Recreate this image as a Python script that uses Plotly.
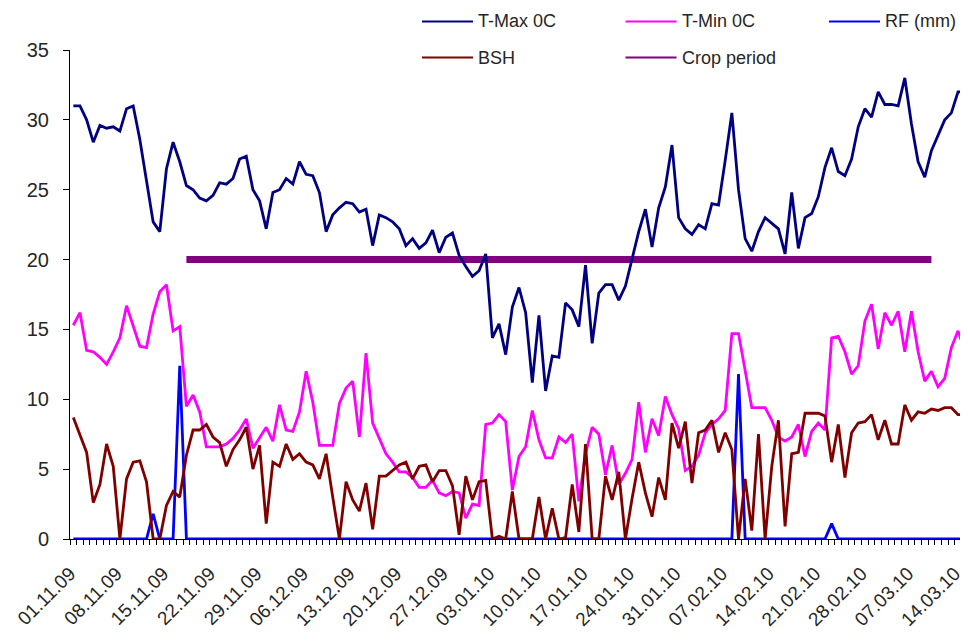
import pandas as pd
import plotly.graph_objects as go

# daily categories 01.11.09 .. 15.03.10
dates = pd.date_range("2009-11-01", "2010-03-15", freq="D").strftime("%d.%m.%y").tolist()
days = list(range(len(dates)))

tick_labels = ["01.11.09", "08.11.09", "15.11.09", "22.11.09", "29.11.09", "06.12.09",
               "13.12.09", "20.12.09", "27.12.09", "03.01.10", "10.01.10", "17.01.10",
               "24.01.10", "31.01.10", "07.02.10", "14.02.10", "21.02.10", "28.02.10",
               "07.03.10", "14.03.10"]

tmax = [31.0, 31.0, 30.0, 28.4, 29.6, 29.4, 29.5, 29.2, 30.8, 31.0,
        28.6, 25.7, 22.7, 22.0, 26.5, 28.4, 27.0, 25.3, 25.0, 24.4,
        24.2, 24.6, 25.5, 25.4, 25.8, 27.2, 27.4, 25.0, 24.2, 22.2,
        24.8, 25.0, 25.8, 25.4, 27.0, 26.1, 26.0, 24.8, 22.0, 23.2,
        23.7, 24.1, 24.0, 23.4, 23.6, 21.0, 23.2, 23.0, 22.7, 22.2,
        21.0, 21.5, 20.8, 21.2, 22.1, 20.5, 21.6, 21.9, 20.3, 19.5,
        18.8, 19.2, 20.4, 14.4, 15.4, 13.2, 16.6, 18.0, 16.2, 11.2,
        16.0, 10.6, 13.1, 13.0, 16.9, 16.4, 15.2, 19.6, 14.0, 17.6,
        18.2, 18.2, 17.1, 18.1, 20.0, 22.0, 23.6, 20.9, 23.7, 25.2,
        28.2, 23.0, 22.2, 21.8, 22.5, 22.2, 24.0, 23.9, 27.1, 30.5,
        25.0, 21.5, 20.6, 22.0, 23.0, 22.6, 22.2, 20.4, 24.8, 20.8,
        23.0, 23.3, 24.5, 26.6, 28.0, 26.3, 26.0, 27.2, 29.5, 30.8,
        30.2, 32.0, 31.1, 31.1, 31.0, 33.0, 29.7, 27.0, 25.9, 27.8,
        28.9, 30.0, 30.5, 32.0, 32.0]

tmin = [15.3, 16.2, 13.5, 13.4, 13.0, 12.5, 13.4, 14.4, 16.7, 15.3,
        13.8, 13.7, 16.1, 17.7, 18.2, 14.9, 15.2, 9.5, 10.3, 9.1,
        6.6, 6.6, 6.6, 6.8, 7.2, 7.8, 8.6, 6.5, 7.3, 8.0,
        7.0, 9.6, 7.8, 7.7, 9.1, 12.0, 9.8, 6.7, 6.7, 6.7,
        9.7, 10.8, 11.3, 7.3, 13.3, 8.3, 7.2, 6.1, 5.5, 4.8,
        4.8, 4.4, 3.7, 3.7, 4.2, 3.3, 3.1, 3.4, 3.3, 1.5,
        2.5, 2.4, 8.2, 8.3, 8.9, 8.4, 3.5, 5.9, 6.6, 9.2,
        7.1, 5.8, 5.8, 7.3, 6.9, 7.5, 2.7, 6.1, 8.0, 7.5,
        4.6, 6.7, 3.9, 4.7, 5.7, 9.8, 6.2, 8.6, 7.4, 10.2,
        8.9, 7.9, 4.9, 5.2, 6.0, 7.6, 8.2, 8.6, 9.2, 14.7,
        14.7, 12.1, 9.4, 9.4, 9.4, 8.5, 7.3, 7.0, 7.3, 8.2,
        5.9, 7.7, 8.3, 7.8, 14.4, 14.5, 13.4, 11.8, 12.4, 15.6,
        16.8, 13.6, 16.2, 15.3, 16.3, 13.4, 16.3, 13.4, 11.3, 12.0,
        10.9, 11.5, 13.7, 14.9, 13.5]

rf = [0, 0, 0, 0, 0, 0, 0, 0, 0, 0,
      0, 0, 1.8, 0, 0, 0, 12.4, 0, 0, 0,
      0, 0, 0, 0, 0, 0, 0, 0, 0, 0,
      0, 0, 0, 0, 0, 0, 0, 0, 0, 0,
      0, 0, 0, 0, 0, 0, 0, 0, 0, 0,
      0, 0, 0, 0, 0, 0, 0, 0, 0, 0,
      0, 0, 0, 0, 0, 0, 0, 0, 0, 0,
      0, 0, 0, 0, 0, 0, 0, 0, 0, 0,
      0, 0, 0, 0, 0, 0, 0, 0, 0, 0,
      0, 0, 0, 0, 0, 0, 0, 0, 0, 0,
      11.8, 0, 0, 0, 0, 0, 0, 0, 0, 0,
      0, 0, 0, 0, 1.1, 0, 0, 0, 0, 0,
      0, 0, 0, 0, 0, 0, 0, 0, 0, 0,
      0, 0, 0, 0, 0]

bsh = [8.7, 7.5, 6.2, 2.6, 3.9, 6.8, 5.2, 0.0, 4.3, 5.5,
       5.6, 4.1, 0.0, 0.0, 2.4, 3.4, 3.0, 6.0, 7.8, 7.8,
       8.2, 7.3, 6.9, 5.2, 6.4, 7.1, 8.0, 5.0, 6.7, 1.1,
       5.5, 5.2, 6.8, 5.7, 6.1, 5.5, 5.3, 4.3, 6.1, 3.0,
       0.0, 4.1, 2.8, 2.0, 4.0, 0.7, 4.5, 4.5, 4.9, 5.3,
       5.5, 4.3, 5.2, 5.3, 4.1, 4.9, 4.9, 3.8, 0.3, 4.5,
       2.8, 4.1, 4.2, 0.0, 0.2, 0.0, 3.4, 0.0, 0.0, 0.0,
       3.0, 0.0, 2.2, 0.0, 0.1, 3.9, 0.5, 6.8, 0.0, 0.0,
       4.5, 2.8, 4.8, 0.0, 2.9, 5.5, 3.3, 1.6, 4.4, 2.8,
       8.3, 6.5, 8.4, 4.0, 7.6, 7.8, 8.5, 6.2, 7.6, 6.4,
       0.0, 4.3, 0.6, 7.5, 0.0, 5.2, 8.5, 0.9, 6.1, 6.2,
       9.0, 9.0, 9.0, 8.8, 5.5, 8.2, 4.4, 7.6, 8.3, 8.4,
       8.9, 7.1, 8.5, 6.8, 6.8, 9.6, 8.5, 9.1, 9.0, 9.3,
       9.2, 9.4, 9.4, 8.9, 8.9]

crop_start, crop_end, crop_level = "18.11.09", "10.03.10", 20

FONT = "Arial, Liberation Sans, sans-serif"
TXT = "#262626"

series = [
    # name, values, colour
    ("T-Max 0C", tmax, "#000080"),
    ("T-Min 0C", tmin, "#FF00FF"),
    ("RF (mm)", rf, "#0000FF"),
    ("BSH", bsh, "#800000"),
]
CROP_COLOR = "#800080"

fig = go.Figure()

# crop period bar sits underneath the daily lines
fig.add_trace(go.Scatter(
    x=[dates.index(crop_start), dates.index(crop_end)], y=[crop_level, crop_level],
    mode="lines", line=dict(color=CROP_COLOR, width=7), name="Crop period"))

for name, vals, col in series:
    fig.add_trace(go.Scatter(x=days, y=vals, mode="lines",
                             line=dict(color=col, width=2.8), name=name))

# page body has an 8px margin, so the figure is laid out 8px smaller
OFF = 8
PL, PW, PB, PH = 70, 898, 539, 489   # plot area in screen pixels
def px(x):
    return (x - PL) / PW
def py(y):
    return (PB - y) / PH

# --- hand-drawn legend (3 columns, 2 rows above the plot)
legend_items = [(n, c) for n, _, c in series] + [("Crop period", CROP_COLOR)]
for k, (name, col) in enumerate(legend_items):
    row, colno = divmod(k, 3)
    x0 = 422 + colno * 203.5
    y0 = 21.5 + row * 36
    fig.add_shape(type="line", xref="paper", yref="paper",
                  x0=px(x0), x1=px(x0 + 51), y0=py(y0), y1=py(y0),
                  line=dict(color=col, width=2))
    fig.add_annotation(xref="paper", yref="paper", x=px(x0 + 54), y=py(y0),
                       xanchor="left", yanchor="middle", text=name, showarrow=False,
                       font=dict(size=18, color=TXT, family=FONT))

ticktext = [d if d in tick_labels else "" for d in dates]

fig.update_layout(
    width=968 - OFF, height=642 - OFF,
    margin=dict(l=PL - OFF, r=0, t=50 - OFF, b=642 - PB),
    paper_bgcolor="white", plot_bgcolor="white",
    showlegend=False,
    font=dict(family=FONT, color=TXT),
    xaxis=dict(range=[-0.5, len(dates) - 0.5], automargin=False,
               tickmode="array", tickvals=[d - 0.5 for d in days], ticktext=ticktext,
               tickangle=-45, ticks="outside", ticklen=5, tickcolor="black",
               showline=True, linecolor="black", linewidth=1,
               showgrid=False, zeroline=False, ticklabelstandoff=10,
               tickfont=dict(size=19, color=TXT)),
    yaxis=dict(range=[0, 35], tick0=0, dtick=5, automargin=False,
               ticks="outside", ticklen=6, tickcolor="black",
               showline=True, linecolor="black", linewidth=1,
               showgrid=False, zeroline=False, ticklabelstandoff=10,
               tickfont=dict(size=20, color=TXT)),
)

fig.write_html("out.html")
